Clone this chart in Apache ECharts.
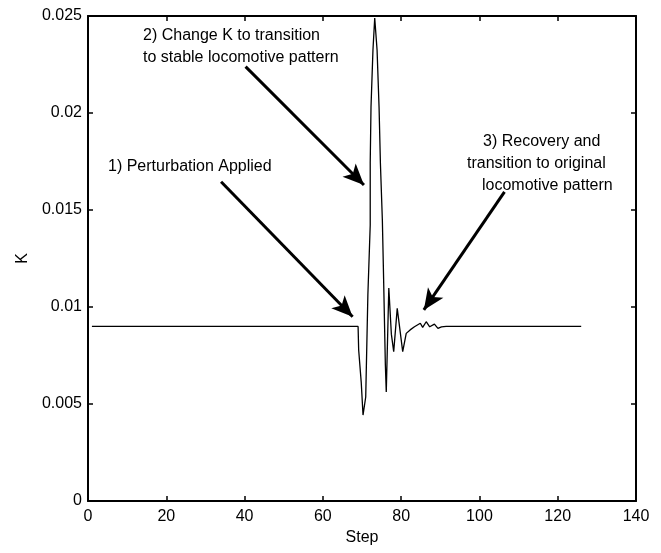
<!DOCTYPE html>
<html>
<head>
<meta charset="utf-8">
<script src="https://cdn.jsdelivr.net/npm/echarts@6/dist/echarts.min.js"></script>
<style>
html,body{margin:0;padding:0;background:#fff;}
#chart{width:661px;height:553px;}
</style>
</head>
<body>
<div id="chart"></div>
<script>
// ---- data ----
var steps = [1, 69, 69.15, 69.8, 70.26, 70.95, 71.5, 72.1, 72.1, 72.3, 72.8, 73.25, 73.7, 73.85, 74.36, 74.7, 75.2, 75.5, 75.97, 76.2, 76.85, 77.0, 77.5, 78.1, 79.0, 80.4, 81.3, 82.3, 83.4, 84.9, 85.5, 86.4, 87.3, 88.5, 89.4, 90.3, 91.5, 126];
var kValues = [0.009, 0.009, 0.00778, 0.00613, 0.00443, 0.00536, 0.01062, 0.01423, 0.01742, 0.0203, 0.02325, 0.0249, 0.0249, 0.02325, 0.0203, 0.01742, 0.01448, 0.01165, 0.00701, 0.00562, 0.01098, 0.01105, 0.0086, 0.0077, 0.00993, 0.0077, 0.00864, 0.00882, 0.00898, 0.00916, 0.00895, 0.00924, 0.00898, 0.00912, 0.0089, 0.00898, 0.009, 0.009];
var xTicks = [0, 20, 40, 60, 80, 100, 120, 140];
var yTicks = [0, 0.005, 0.01, 0.015, 0.02, 0.025];
// annotation arrows: [tailStep, tailK, tipStep, tipK]
var arrows = [
  [34.0, 0.01646, 67.6, 0.0095],
  [40.26, 0.02239, 70.5, 0.01629],
  [106.4, 0.01593, 85.8, 0.00985]
];
var notes = [
  {text: '2) Change K to transition', x: 143, y: 36},
  {text: 'to stable locomotive pattern', x: 143, y: 58},
  {text: '1) Perturbation Applied', x: 108, y: 167},
  {text: '3) Recovery and', x: 483, y: 142},
  {text: 'transition to original', x: 467, y: 164},
  {text: 'locomotive pattern', x: 482, y: 186}
];

var FONT = 'Liberation Sans, Arial, sans-serif';
var series = steps.map(function (s, i) { return [s, kValues[i]]; });

var chart = echarts.init(document.getElementById('chart'), null, {renderer: 'canvas'});
var axisLine = {show: true, onZero: false, lineStyle: {color: '#000', width: 2}};
var tick = {show: true, inside: true, length: 5, lineStyle: {color: '#000', width: 1.5}};

chart.setOption({
  animation: false,
  backgroundColor: '#fff',
  grid: {left: 88, right: 25, top: 16, bottom: 52, containLabel: false},
  xAxis: [{
    type: 'value', min: xTicks[0], max: xTicks[xTicks.length - 1], interval: 20,
    position: 'bottom',
    axisLine: axisLine, axisTick: tick, splitLine: {show: false},
    axisLabel: {color: '#000', fontFamily: FONT, fontSize: 16, margin: 8},
    name: 'Step', nameLocation: 'middle', nameGap: 27,
    nameTextStyle: {color: '#000', fontFamily: FONT, fontSize: 16}
  }, {
    type: 'value', min: xTicks[0], max: xTicks[xTicks.length - 1], interval: 20,
    position: 'top',
    axisLine: axisLine, axisTick: tick, splitLine: {show: false},
    axisLabel: {show: false}
  }],
  yAxis: [{
    type: 'value', min: yTicks[0], max: yTicks[yTicks.length - 1], interval: 0.005,
    position: 'left',
    axisLine: axisLine, axisTick: tick, splitLine: {show: false},
    axisLabel: {color: '#000', fontFamily: FONT, fontSize: 16, margin: 6,
      formatter: function (v) { return String(parseFloat(v.toFixed(3))); }},
    name: 'K', nameLocation: 'middle', nameGap: 57, nameRotate: 90,
    nameTextStyle: {color: '#000', fontFamily: FONT, fontSize: 16}
  }, {
    type: 'value', min: yTicks[0], max: yTicks[yTicks.length - 1], interval: 0.005,
    position: 'right',
    axisLine: axisLine, axisTick: tick, splitLine: {show: false},
    axisLabel: {show: false}
  }],
  series: [{
    type: 'line',
    data: series,
    showSymbol: false,
    symbol: 'none',
    lineStyle: {color: '#000', width: 1.3},
    markLine: {
      silent: true,
      animation: false,
      symbol: ['none', 'arrow'],
      symbolSize: [14, 21],
      label: {show: false},
      lineStyle: {color: '#000', width: 3, type: 'solid'},
      data: arrows.map(function (a) {
        return [{coord: [a[0], a[1]]}, {coord: [a[2], a[3]]}];
      })
    }
  }],
  graphic: notes.map(function (n) {
    return {
      type: 'text', x: n.x, y: n.y, silent: true,
      style: {text: n.text, fill: '#000', font: '16px ' + FONT, align: 'left', verticalAlign: 'middle'}
    };
  })
});
</script>
</body>
</html>
